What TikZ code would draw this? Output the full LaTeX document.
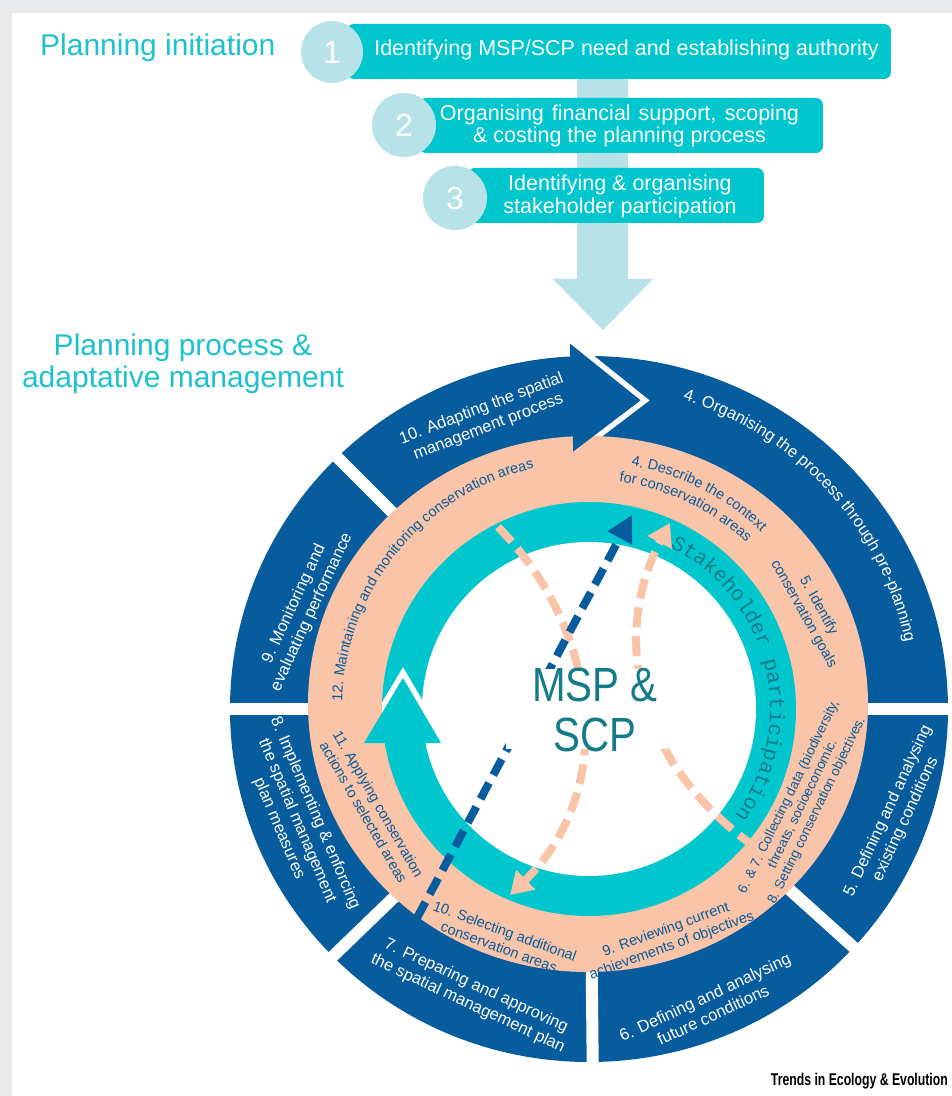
\documentclass[tikz,border=0pt]{standalone}
\usepackage{fontspec}
\setmainfont{Liberation Sans}
\newfontfamily\monofont{Liberation Mono}
\newfontfamily\narrowfont[FakeStretch=0.84]{Liberation Sans}
\newfontfamily\condfont[FakeStretch=0.72]{Liberation Sans}
\usepackage{xcolor}
\usetikzlibrary{arrows.meta,decorations.text}
\definecolor{mspteal}{HTML}{00C6CE}
\definecolor{msplight}{HTML}{B7E2E8}
\definecolor{mspdark}{HTML}{075C9D}
\definecolor{msppeach}{HTML}{F9C4A8}
\definecolor{msptitle}{HTML}{1DC2CC}
\definecolor{mspdeep}{HTML}{137B8A}
\definecolor{mspgray}{HTML}{E9EAEC}
\begin{document}
\begin{tikzpicture}[x=1pt,y=1pt,
  ringtxt/.style={text=white,align=center,inner sep=0pt,font=\fontsize{16.5}{19.5}\selectfont},
  peachtxt/.style={text=mspdark,align=center,inner sep=0pt,font=\fontsize{14.5}{17}\selectfont},
  boxtxt/.style={text=white,align=center,inner sep=0pt,font=\fontsize{21.5}{22.5}\selectfont},
  numtxt/.style={text=white,inner sep=0pt,font=\fontsize{32}{32}\selectfont},
  ttltxt/.style={text=msptitle,align=center,inner sep=0pt,font=\fontsize{30}{32}\selectfont},
  gapline/.style={white,line width=12pt},
  peachdash/.style={msppeach,line width=8pt,dash pattern=on 20pt off 9pt,-{Triangle[length=22pt,width=26pt]}},
  darkdash/.style={mspdark,line width=8pt,dash pattern=on 18pt off 9pt,-{Triangle[length=26pt,width=26pt]}}]
\fill[mspgray] (-589,-387) rectangle (363,709);
\fill[white] (-577,-387) rectangle (363,696);
\useasboundingbox (-589,-387) rectangle (363,709);

% planning initiation
\node[ttltxt,anchor=west] (init) at (-549,661) {Planning initiation};
\fill[msplight] (-12,640) rectangle (39,430);
\fill[msplight] (-36,430) -- (64,430) -- (14,379) -- cycle;
\fill[mspteal,rounded corners=7pt] (-242,685) rectangle (302,630);
\fill[msplight] (-257,657) circle (31pt);
  \node[numtxt] (n1) at (-257,657) {1};
  \node[boxtxt] (t1) at (37.5,659) {Identifying MSP/SCP need and establishing authority};
\fill[mspteal,rounded corners=7pt] (-170,611) rectangle (234,556);
\fill[msplight] (-185,584) circle (32pt);
  \node[numtxt] (n2) at (-185,584) {2};
  \node[boxtxt] (t2) at (30.5,583) {\makebox[359pt][s]{Organising financial support, scoping}\\\& costing the planning process};
\fill[mspteal,rounded corners=7pt] (-121,541) rectangle (175,486);
\fill[msplight] (-134,511) circle (32pt);
  \node[numtxt] (n3) at (-134,511) {3};
  \node[boxtxt] (t3) at (31,512.5) {Identifying \& organising\\stakeholder participation};

% planning process
\node[ttltxt] (proc) at (-406,345) {Planning process \&\\adaptative management};
\fill[mspdark] (0,0) ellipse [x radius=359pt,y radius=353pt];
\foreach \a in {0,135,180,224,270.6,318}
  \draw[gapline] (\a:255) -- (\a:372);
\draw[white,line width=11pt] (93:366) -- (80.5:313) -- (93.5:258);
\fill[msppeach] (-1,5) ellipse [x radius=280pt,y radius=268pt];
\fill[mspteal] (0,0) circle (207pt);
\begin{scope}
  \clip (0,0) circle (207pt);
  \draw[white,line width=11pt] (-225,-34) -- (-186,31) -- (-148,-34);
\end{scope}
\fill[white] (0,0) circle (167pt);
\fill[mspteal] (-225,-34) -- (-186,31) -- (-148,-34) -- cycle;
\fill[mspdark] (93:366) -- (80.5:313) -- (93.5:258) -- cycle;

% outer ring
\node[ringtxt,rotate=21] (s10) at (-104,291) {10. Adapting the spatial\\management process};
\path[decorate,decoration={text along path,text align=center,
  text={|\fontsize{16.5}{16.5}\selectfont\color{white}|4. Organising the process through pre-planning}}]
  (102.5:323) arc[start angle=102.5,end angle=-17.5,radius=323pt];
\node[ringtxt,rotate=65] (s5) at (308,-106) {5. Defining and analysing\\existing conditions};
\node[ringtxt,rotate=25] (s6) at (120,-297) {6. Defining and analysing\\future conditions};
\node[ringtxt,rotate=-25] (s7) at (-117,-286) {7. Preparing and approving\\the spatial management plan};
\node[ringtxt,rotate=-67] (s8) at (-292,-112) {8. Implementing \& enforcing\\the spatial management\\plan measures};
\node[ringtxt,rotate=65] (s9) at (-286,101) {9. Monitoring and\\evaluating performance};

% peach ring
\path[decorate,decoration={text along path,text align=center,
  text={|\fontsize{14.5}{14.5}\selectfont\color{mspdark}|12. Maintaining and monitoring conservation areas}}]
  (200.5:247) arc[start angle=200.5,end angle=80.5,radius=247pt];
\path[decorate,decoration={text along path,text align=center,
  text={|\fontsize{14.5}{14.5}\selectfont\color{mspdark}|4. Describe the context}}]
  (113:247) arc[start angle=113,end angle=13,radius=247pt];
\path[decorate,decoration={text along path,text align=center,
  text={|\fontsize{14.5}{14.5}\selectfont\color{mspdark}|for conservation areas}}]
  (114.5:229) arc[start angle=114.5,end angle=14.5,radius=229pt];
\node[peachtxt,rotate=-61] (p5) at (222,99) {5. Identify\\conservation goals};
\node[peachtxt,rotate=64,font=\fontsize{13.5}{15.5}\selectfont] (p6) at (214,-95) {6. \& 7. Collecting data (biodiversity,\\threats, socioeconomic.\\8. Setting conservation objectives.};
\node[peachtxt,rotate=20] (p9) at (80,-229) {9. Reviewing current\\achievements of objectives};
\node[peachtxt,rotate=-20] (p10) at (-87,-230) {10. Selecting additional\\conservation areas};
\node[peachtxt,rotate=-60] (p11) at (-218,-99) {11. Applying conservation\\actions to selected areas};

% teal ring
\path[decorate,decoration={text along path,text align=center,
  text={|\monofont\fontsize{21}{21}\selectfont\color{mspdeep}|Stakeholder participation}}]
  (83.5:181) arc[start angle=83.5,end angle=-56.5,radius=181pt];

% centre
\coordinate (pa1) at (-91,182);
\coordinate (pa2) at (-79,-186);
\coordinate (pb1) at (166,-138);
\coordinate (pb2) at (81,186);
\coordinate (d1) at (-172,-209);
\coordinate (d2) at (43,194);
\draw[peachdash] (pa1) .. controls (10,80) and (30,-80) .. (pa2);
\draw[peachdash] (pb1) .. controls (30,-40) and (30,90) .. (pb2);
\draw[darkdash] (d1) -- (d2);
\node[fill=white,minimum width=162pt,minimum height=80pt,inner sep=0pt] (hub) at (-2,0) {};
\node[text=mspdeep,align=center,inner sep=0pt,font=\narrowfont\fontsize{48}{50}\selectfont] (core) at (6,-0.5) {MSP \&\\SCP};

\node[anchor=east,inner sep=0pt,font=\condfont\bfseries\fontsize{17}{17}\selectfont] (journal) at (359,-372) {Trends in Ecology \& Evolution};
\end{tikzpicture}
\end{document}
